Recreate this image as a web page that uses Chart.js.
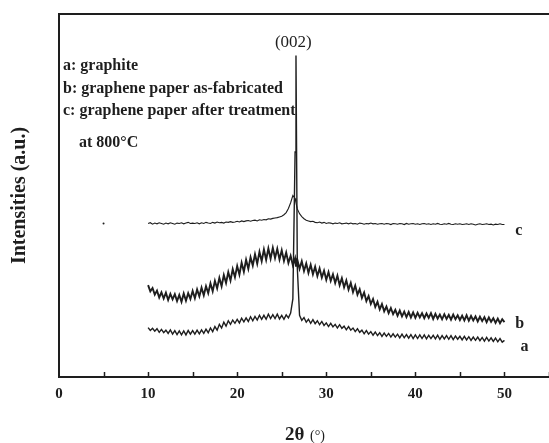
<!DOCTYPE html>
<html lang="en">

<head>
  <meta charset="UTF-8">
  <title>XRD patterns</title>
  <script src="https://cdn.jsdelivr.net/npm/chart.js"></script>
  <style>
    html, body { margin: 0; padding: 0; background: #fff; }
    canvas { display: block; }
  </style>
</head>

<body>
  <canvas id="xrdChart" width="549" height="443"></canvas>

  <script>
    // 2θ grid (deg), extra point at 26.6 for the graphite (002) peak
    const twoTheta = [
      10, 10.25, 10.5, 10.75, 11, 11.25, 11.5, 11.75, 12, 12.25, 12.5, 12.75,
      13, 13.25, 13.5, 13.75, 14, 14.25, 14.5, 14.75, 15, 15.25, 15.5, 15.75,
      16, 16.25, 16.5, 16.75, 17, 17.25, 17.5, 17.75, 18, 18.25, 18.5, 18.75,
      19, 19.25, 19.5, 19.75, 20, 20.25, 20.5, 20.75, 21, 21.25, 21.5, 21.75,
      22, 22.25, 22.5, 22.75, 23, 23.25, 23.5, 23.75, 24, 24.25, 24.5, 24.75,
      25, 25.25, 25.5, 25.75, 26, 26.25, 26.5, 26.6, 26.75,
      27, 27.25, 27.5, 27.75, 28, 28.25, 28.5, 28.75, 29, 29.25, 29.5, 29.75,
      30, 30.25, 30.5, 30.75, 31, 31.25, 31.5, 31.75, 32, 32.25, 32.5, 32.75,
      33, 33.25, 33.5, 33.75, 34, 34.25, 34.5, 34.75, 35, 35.25, 35.5, 35.75,
      36, 36.25, 36.5, 36.75, 37, 37.25, 37.5, 37.75, 38, 38.25, 38.5, 38.75,
      39, 39.25, 39.5, 39.75, 40, 40.25, 40.5, 40.75, 41, 41.25, 41.5, 41.75,
      42, 42.25, 42.5, 42.75, 43, 43.25, 43.5, 43.75, 44, 44.25, 44.5, 44.75,
      45, 45.25, 45.5, 45.75, 46, 46.25, 46.5, 46.75, 47, 47.25, 47.5, 47.75,
      48, 48.25, 48.5, 48.75, 49, 49.25, 49.5, 49.75, 50
    ];

    // a: graphite
    const graphite = [
      13.6, 12.8, 13.4, 12.6, 13.3, 12.3, 13.1, 12.2, 12.9, 12.0, 13.0, 11.8,
      12.8, 11.7, 12.7, 11.6, 12.7, 11.6, 12.8, 11.8, 12.8, 11.8, 12.9, 11.9,
      13.0, 12.0, 13.2, 12.2, 13.5, 12.5, 13.9, 12.9, 14.5, 13.5, 15.1, 14.0,
      15.5, 14.5, 15.7, 14.8, 15.9, 14.9, 16.2, 15.2, 16.3, 15.3, 16.6, 15.5,
      16.7, 15.7, 17.0, 15.9, 17.0, 15.9, 17.3, 16.1, 17.2, 16.1, 17.3, 16.0,
      17.0, 15.9, 17.1, 16.3, 17.6, 21.5, 62.0, 88.6, 30.0,
      17.0, 15.6, 16.4, 15.1, 15.9, 14.8, 15.8, 14.7, 15.5, 14.4, 15.3, 14.2,
      14.9, 13.9, 14.8, 13.8, 14.5, 13.5, 14.4, 13.4, 14.0, 13.0, 13.9, 12.9,
      13.5, 12.5, 13.3, 12.3, 12.9, 11.9, 12.8, 11.8, 12.5, 11.5, 12.4, 11.4,
      12.2, 11.2, 12.1, 11.2, 12.0, 11.0, 11.9, 11.0, 11.8, 10.8, 11.8, 10.8,
      11.7, 10.7, 11.7, 10.6, 11.6, 10.6, 11.6, 10.6, 11.6, 10.5, 11.5, 10.6,
      11.5, 10.5, 11.5, 10.4, 11.4, 10.5, 11.4, 10.4, 11.4, 10.3, 11.3, 10.4,
      11.2, 10.2, 11.2, 10.2, 11.1, 10.1, 11.0, 10.1, 11.0, 10.0, 10.9, 9.9,
      10.9, 9.9, 10.8, 9.8, 10.7, 9.7, 10.6, 9.6, 10.1
    ];

    // b: graphene paper as-fabricated
    const paperAsMade = [
      25.3, 23.6, 24.5, 22.7, 23.8, 21.9, 23.3, 21.6, 23.2, 21.2, 22.9, 21.4,
      22.8, 20.9, 22.6, 20.7, 23.0, 21.0, 23.1, 21.5, 23.7, 21.7, 24.1, 22.2,
      24.6, 22.5, 25.0, 23.1, 25.8, 23.6, 26.5, 24.4, 27.3, 25.0, 28.1, 25.9,
      28.9, 26.6, 29.7, 27.5, 30.6, 28.2, 31.5, 29.0, 32.3, 29.8, 33.0, 30.7,
      33.8, 31.2, 34.5, 31.9, 35.1, 32.3, 35.4, 32.6, 35.6, 32.8, 35.3, 32.4,
      34.9, 32.0, 34.3, 31.4, 33.4, 30.8, 32.7, 30.4, 32.3,
      29.8, 31.9, 29.2, 31.3, 28.7, 30.9, 28.3, 30.4, 27.8, 29.9, 27.4, 29.3,
      26.8, 28.9, 26.5, 28.3, 25.9, 27.9, 25.3, 27.2, 24.7, 26.6, 24.1, 25.9,
      23.4, 25.2, 22.7, 24.2, 21.8, 23.3, 20.9, 22.3, 20.1, 21.5, 19.3, 20.7,
      18.6, 20.1, 18.1, 19.4, 17.6, 19.0, 17.3, 18.5, 16.9, 18.3, 16.7, 18.0,
      16.5, 17.9, 16.4, 17.8, 16.3, 17.7, 16.4, 17.6, 16.2, 17.5, 16.3, 17.6,
      16.0, 17.4, 16.1, 17.2, 15.9, 17.3, 16.0, 17.1, 15.8, 17.2, 15.9, 17.0,
      15.7, 16.9, 15.6, 17.0, 15.5, 16.8, 15.6, 16.7, 15.3, 16.6, 15.4, 16.5,
      15.1, 16.4, 15.2, 16.2, 14.9, 16.1, 14.8, 15.9, 15.1
    ];

    // c: graphene paper after treatment at 800 °C
    const paperTreated = [
      42.3, 42.5, 42.1, 42.4, 42.2, 42.5, 42.3, 42.1, 42.4, 42.2, 42.5, 42.3,
      42.1, 42.4, 42.3, 42.5, 42.2, 42.4, 42.6, 42.3, 42.4, 42.3, 42.5, 42.2,
      42.5, 42.3, 42.6, 42.4, 42.3, 42.6, 42.4, 42.7, 42.5, 42.6, 42.4, 42.7,
      42.6, 42.8, 42.6, 42.7, 42.9, 42.7, 43.0, 42.8, 43.0, 43.1, 42.9, 43.1,
      43.2, 43.0, 43.3, 43.2, 43.4, 43.3, 43.6, 43.5, 43.7, 43.8, 43.9, 44.1,
      44.3, 44.7, 45.3, 46.4, 48.0, 50.0, 49.2, 48.0, 46.3,
      45.0, 44.2, 43.6, 43.2, 43.0, 42.8, 42.9, 42.6, 42.5, 42.7, 42.4, 42.6,
      42.3, 42.5, 42.4, 42.2, 42.4, 42.3, 42.5, 42.2, 42.3, 42.4, 42.2, 42.4,
      42.2, 42.3, 42.1, 42.4, 42.3, 42.1, 42.3, 42.2, 42.4, 42.2, 42.3, 42.1,
      42.2, 42.3, 42.1, 42.3, 42.2, 42.0, 42.3, 42.2, 42.1, 42.3, 42.2, 42.0,
      42.3, 42.1, 42.2, 42.3, 42.1, 42.2, 42.0, 42.2, 42.3, 42.1, 42.2, 42.0,
      42.2, 42.1, 42.3, 42.1, 42.0, 42.2, 42.1, 42.3, 42.1, 42.0, 42.2, 42.1,
      42.2, 42.0, 42.1, 42.2, 42.0, 42.2, 42.1, 41.9, 42.1, 42.2, 42.0, 42.1,
      42.2, 42.0, 42.1, 41.9, 42.1, 42.0, 42.2, 42.0, 42.0
    ];

    // stray point near 2θ = 5
    const strayX = [5];
    const strayY = [42.3];

    const xTicks = [0, 10, 20, 30, 40, 50];
    const ink = "#1e1e1e";
    const serif = "'Liberation Serif', 'Times New Roman', serif";

    const toPoints = (xs, ys) => xs.map((x, i) => ({ x: x, y: ys[i] }));

    const decor = {
      id: "decor",
      afterDraw(chart) {
        const { ctx, chartArea: area, scales: { x, y } } = chart;
        ctx.save();
        ctx.strokeStyle = ink;
        ctx.fillStyle = ink;

        // top frame line
        ctx.lineWidth = 2;
        ctx.beginPath();
        ctx.moveTo(area.left - 1, area.top);
        ctx.lineTo(chart.width, area.top);
        ctx.stroke();

        // inward ticks every 5 degrees
        ctx.lineWidth = 1.5;
        for (let v = 5; v <= 55; v += 5) {
          const px = Math.round(x.getPixelForValue(v)) + 0.5;
          ctx.beginPath();
          ctx.moveTo(px, area.bottom);
          ctx.lineTo(px, area.bottom - 5);
          ctx.stroke();
        }

        // legend text
        ctx.textBaseline = "middle";
        ctx.textAlign = "left";
        ctx.font = "bold 16px " + serif;
        ctx.fillText("a: graphite", area.left + 4, 66);
        ctx.fillText("b: graphene paper as-fabricated", area.left + 4, 89);
        ctx.fillText("c: graphene paper after treatment", area.left + 4, 111);
        ctx.fillText("at 800\u00B0C", area.left + 20, 143);

        // peak label
        ctx.textAlign = "center";
        ctx.font = "17px " + serif;
        ctx.fillText("(002)", x.getPixelForValue(26.3), 43);

        // curve labels
        ctx.textAlign = "left";
        ctx.font = "bold 16px " + serif;
        ctx.fillText("c", x.getPixelForValue(51.2), y.getPixelForValue(40.2));
        ctx.fillText("b", x.getPixelForValue(51.2), y.getPixelForValue(14.6));
        ctx.fillText("a", x.getPixelForValue(51.8), y.getPixelForValue(8.3));

        // x axis title: bold 2θ + plain (°)
        ctx.textBaseline = "alphabetic";
        ctx.font = "bold 19px " + serif;
        const t1 = "2\u03B8";
        const w1 = ctx.measureText(t1).width;
        ctx.font = "14px " + serif;
        const t2 = " (\u00B0)";
        const w2 = ctx.measureText(t2).width;
        const x0 = 304 - (w1 + w2) / 2;
        ctx.font = "bold 19px " + serif;
        ctx.fillText(t1, x0, 440);
        ctx.font = "14px " + serif;
        ctx.fillText(t2, x0 + w1 + 2, 440);
        ctx.restore();
      }
    };

    new Chart(document.getElementById("xrdChart"), {
      type: "line",
      data: {
        datasets: [{
          label: "a",
          data: toPoints(twoTheta, graphite),
          borderColor: ink,
          borderWidth: 1.4
        }, {
          label: "b",
          data: toPoints(twoTheta, paperAsMade),
          borderColor: ink,
          borderWidth: 1.9
        }, {
          label: "c",
          data: toPoints(twoTheta, paperTreated),
          borderColor: ink,
          borderWidth: 1.1
        }, {
          label: "stray",
          type: "scatter",
          data: toPoints(strayX, strayY),
          backgroundColor: ink,
          borderWidth: 0,
          pointRadius: 1
        }]
      },
      options: {
        responsive: false,
        animation: false,
        layout: { autoPadding: false, padding: { top: 14, right: 0, left: 0, bottom: 0 } },
        elements: {
          point: { radius: 0 },
          line: { tension: 0 }
        },
        plugins: {
          legend: { display: false },
          tooltip: { enabled: false }
        },
        scales: {
          x: {
            type: "linear",
            min: 0,
            max: 55,
            afterBuildTicks: s => { s.ticks = xTicks.map(v => ({ value: v })); },
            afterFit: s => { s.height = 66; s.paddingLeft = 0; s.paddingRight = 0; },
            ticks: {
              autoSkip: false,
              maxRotation: 0,
              padding: 8,
              color: ink,
              font: { family: serif, size: 15, weight: "bold" }
            },
            grid: { display: false, drawTicks: false },
            border: { display: true, color: ink, width: 2 }
          },
          y: {
            min: 0,
            max: 100,
            afterFit: s => { s.width = 59; },
            ticks: { display: false },
            grid: { display: false, drawTicks: false },
            border: { display: true, color: ink, width: 2 },
            title: {
              display: true,
              text: "Intensities (a.u.)",
              color: ink,
              padding: { top: 8, bottom: 0 },
              font: { family: serif, size: 20, weight: "bold" }
            }
          }
        }
      },
      plugins: [decor]
    });
  </script>
</body>

</html>
